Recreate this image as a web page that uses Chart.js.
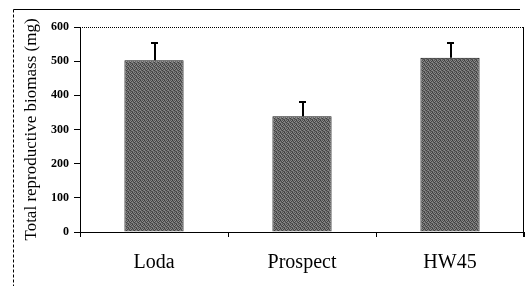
<!DOCTYPE html>
<html>
<head>
<meta charset="utf-8">
<script src="https://cdn.jsdelivr.net/npm/chart.js@4"></script>
<style>
  html, body { margin: 0; padding: 0; background: #fff; }
  #wrap { width: 526px; height: 286px; }
</style>
</head>
<body>
<div id="wrap"><canvas id="myChart" width="526" height="286"></canvas></div>
<script>
var cultivars = ["Loda", "Prospect", "HW45"];
var biomass = [503, 339, 510];
var biomassSE = [54, 45, 47];
var yTicks = [0, 100, 200, 300, 400, 500, 600];

// grey stippled fill like the scanned figure
function stipple() {
    var c = document.createElement('canvas');
    c.width = 4; c.height = 4;
    var g = c.getContext('2d');
    var shades = ['#3c3c3c', '#7a7a7a', '#555555', '#8a8a8a',
                  '#707070', '#4a4a4a', '#909090', '#454545',
                  '#8c8c8c', '#5a5a5a', '#404040', '#787878',
                  '#505050', '#858585', '#6a6a6a', '#4e4e4e'];
    for (var i = 0; i < 16; i++) {
        g.fillStyle = shades[i];
        g.fillRect(i % 4, Math.floor(i / 4), 1, 1);
    }
    return g.createPattern(c, 'repeat');
}

var frame = {
    id: 'frame',
    afterDraw: function(chart) {
        var ctx = chart.ctx, a = chart.chartArea;
        var x = chart.scales.x, y = chart.scales.y;
        ctx.save();
        ctx.strokeStyle = '#000';
        // error bars (upper only)
        biomass.forEach(function(v, i) {
            var px = Math.round(x.getPixelForValue(i)) + 1;
            var top = Math.round(y.getPixelForValue(v + biomassSE[i]));
            var base = y.getPixelForValue(v);
            ctx.lineWidth = 2;
            ctx.beginPath();
            ctx.moveTo(px, base);
            ctx.lineTo(px, top);
            ctx.moveTo(px - 4, top + 1);
            ctx.lineTo(px + 3, top + 1);
            ctx.stroke();
        });
        ctx.lineWidth = 1;
        // plot area top (dotted) and right edge
        ctx.setLineDash([1, 1]);
        ctx.beginPath();
        ctx.moveTo(a.left, a.top + 0.5);
        ctx.lineTo(a.right, a.top + 0.5);
        ctx.stroke();
        ctx.setLineDash([]);
        ctx.beginPath();
        ctx.moveTo(a.right - 0.5, a.top);
        ctx.lineTo(a.right - 0.5, a.bottom + 5);
        ctx.stroke();
        // outer figure frame
        ctx.beginPath();
        ctx.moveTo(13.5, 9.5);
        ctx.lineTo(520, 9.5);
        ctx.stroke();
        ctx.setLineDash([3, 2]);
        ctx.beginPath();
        ctx.moveTo(13.5, 9.5);
        ctx.lineTo(13.5, 286);
        ctx.stroke();
        ctx.restore();
    }
};

var ctx = document.getElementById("myChart").getContext('2d');
var myChart = new Chart(ctx, {
    type: 'bar',
    data: {
        labels: cultivars,
        datasets: [{
            data: biomass,
            backgroundColor: stipple(),
            borderColor: '#111',
            borderWidth: 1,
            categoryPercentage: 0.8,
            barPercentage: 0.5
        }]
    },
    options: {
        responsive: false,
        maintainAspectRatio: false,
        animation: false,
        layout: { padding: { top: 27, right: 2, left: 0, bottom: 0 } },
        plugins: { legend: { display: false }, tooltip: { enabled: false } },
        scales: {
            y: {
                min: 0, max: 600,
                afterBuildTicks: function(s) { s.ticks = yTicks.map(function(v) { return { value: v }; }); },
                afterFit: function(s) { s.width = 80; },
                border: { color: '#000', width: 1 },
                grid: { drawOnChartArea: false, color: '#000', tickLength: 6 },
                ticks: {
                    color: '#000', padding: 5,
                    font: { family: 'Liberation Serif', size: 12, weight: 'bold' }
                },
                title: {
                    display: true, text: 'Total reproductive biomass (mg)',
                    color: '#000', padding: { top: 21, bottom: 0 },
                    font: { family: 'Liberation Serif', size: 17 }
                }
            },
            x: {
                afterFit: function(s) { s.height = 54; },
                border: { color: '#000', width: 1 },
                grid: { drawOnChartArea: false, color: '#000', tickLength: 5, offset: true },
                ticks: {
                    color: '#000', padding: 14,
                    font: { family: 'Liberation Serif', size: 20 }
                }
            }
        }
    },
    plugins: [frame]
});
</script>
</body>
</html>
